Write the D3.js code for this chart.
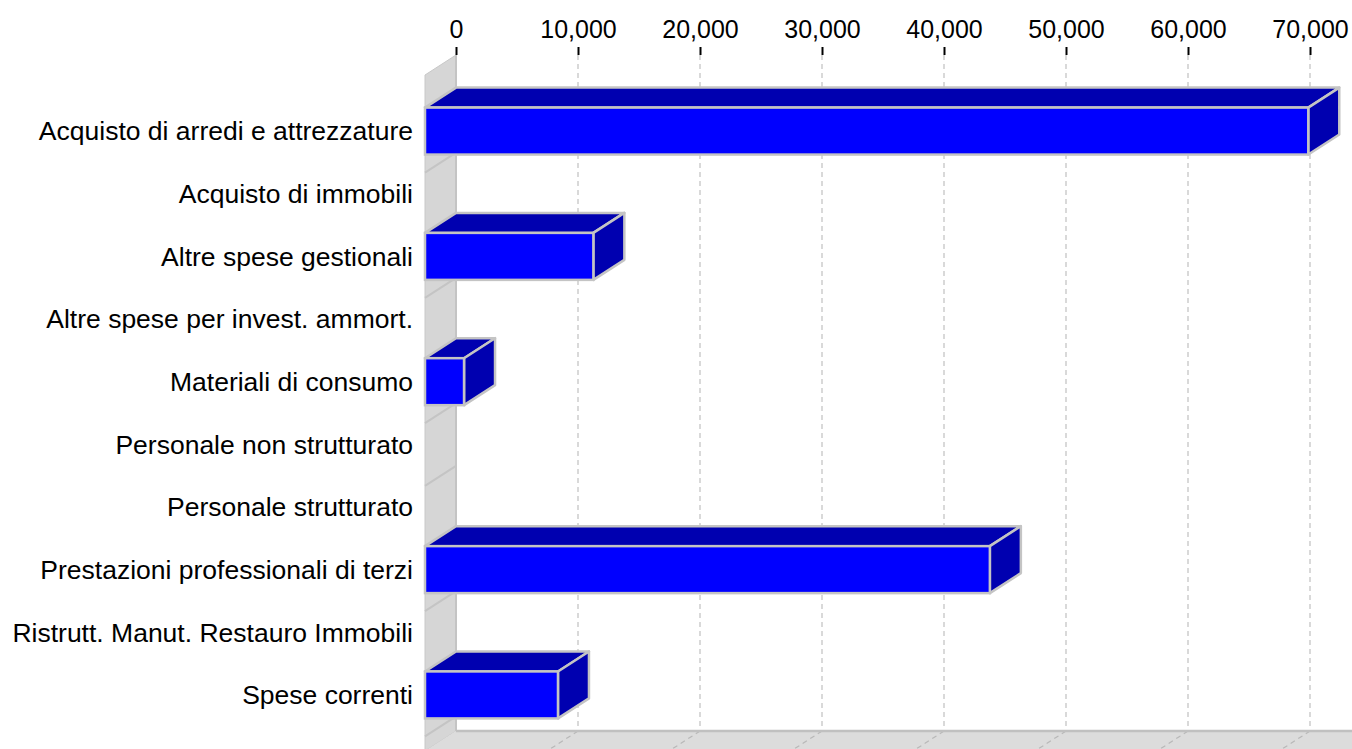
<!DOCTYPE html>
<html>
<head>
<meta charset="utf-8">
<script src="https://cdn.jsdelivr.net/npm/d3@7"></script>
<style>
  body { margin: 0; background: #fff; }
  text { font-family: "Liberation Sans", Arial, sans-serif; fill: #000; }
</style>
</head>
<body>
<div id="chart"></div>
<script>
var categories = ["Acquisto di arredi e attrezzature", "Acquisto di immobili", "Altre spese gestionali",
  "Altre spese per invest. ammort.", "Materiali di consumo", "Personale non strutturato",
  "Personale strutturato", "Prestazioni professionali di terzi", "Ristrutt. Manut. Restauro Immobili",
  "Spese correnti"];
var values = [72400, 0, 13800, 0, 3200, 0, 0, 46300, 0, 10900];
var tickValues = [0, 10000, 20000, 30000, 40000, 50000, 60000, 70000];

var w = 1352, h = 749;
var dx = 31, dy = 20;          // depth offset of the 3d look
var plotLeft = 425, plotTop = 75, plotBottom = 751;

var svg = d3.select("#chart").append("svg")
  .attr("width", w).attr("height", h);

// x scale on the back plane, front = back - dx
var x = d3.scaleLinear().domain([0, 70000]).range([plotLeft + dx, 1310]);
var y = d3.scaleBand().domain(categories).range([plotTop, plotBottom])
  .paddingInner(0.25).paddingOuter(0.52);

var backTop = plotTop - dy, backBottom = plotBottom - dy;

// left wall
svg.append("polygon")
  .attr("points", [[plotLeft, plotTop], [plotLeft + dx, backTop], [plotLeft + dx, backBottom], [plotLeft, plotBottom]].join(" "))
  .attr("fill", "#d6d6d6").attr("stroke", "#c8c8c8").attr("stroke-width", 1);

// floor
svg.append("polygon")
  .attr("points", [[plotLeft + dx, backBottom], [w + 40, backBottom], [w + 40, plotBottom], [plotLeft, plotBottom]].join(" "))
  .attr("fill", "#dcdcdc");

// wall lines between rows
svg.selectAll(".wall-line")
  .data(categories)
  .enter()
  .append("line")
  .attr("class", "wall-line")
  .attr("x1", plotLeft).attr("x2", plotLeft + dx)
  .attr("y1", function(d){ return y(d) + y.bandwidth() / 2 + 41.5; })
  .attr("y2", function(d){ return y(d) + y.bandwidth() / 2 + 41.5 - dy; })
  .attr("stroke", "#c4c4c4").attr("stroke-width", 2);

// grid lines on back plane and floor
svg.selectAll(".grid")
  .data(tickValues.slice(1))
  .enter()
  .append("line")
  .attr("class", "grid")
  .attr("x1", function(d){ return x(d); }).attr("x2", function(d){ return x(d); })
  .attr("y1", backTop).attr("y2", backBottom)
  .attr("stroke", "#c0c0c0").attr("stroke-width", 1.2)
  .attr("stroke-dasharray", "5,4");

svg.selectAll(".floor-grid")
  .data(tickValues.slice(1))
  .enter()
  .append("line")
  .attr("class", "floor-grid")
  .attr("x1", function(d){ return x(d); }).attr("x2", function(d){ return x(d) - dx; })
  .attr("y1", backBottom).attr("y2", plotBottom)
  .attr("stroke", "#b8b8b8").attr("stroke-width", 1.2)
  .attr("stroke-dasharray", "5,4");

// back edges of wall and floor
svg.append("line")
  .attr("x1", plotLeft + dx).attr("x2", plotLeft + dx)
  .attr("y1", backTop).attr("y2", backBottom)
  .attr("stroke", "#c4c4c4").attr("stroke-width", 2);
svg.append("line")
  .attr("x1", plotLeft + dx).attr("x2", w)
  .attr("y1", backBottom).attr("y2", backBottom)
  .attr("stroke", "#c0c0c0").attr("stroke-width", 2.5);

// top axis
var axis = d3.axisTop(x).tickValues(tickValues).tickSize(8).tickPadding(9)
  .tickFormat(d3.format(","));
var ax = svg.append("g")
  .attr("transform", "translate(0," + backTop + ")")
  .call(axis);
ax.select(".domain").remove();
ax.selectAll(".tick line").attr("stroke", "#000").attr("stroke-width", 2);
ax.selectAll(".tick text").attr("font-size", "25px")
  .attr("font-family", "Liberation Sans, Arial, sans-serif");

// bars
var bars = svg.selectAll(".bar")
  .data(values.map(function(v, i){ return {cat: categories[i], v: v}; }).filter(function(d){ return d.v > 0; }))
  .enter()
  .append("g")
  .attr("class", "bar");

function pts(a){ return a.map(function(p){ return p.join(","); }).join(" "); }

bars.append("polygon")
  .attr("points", function(d){
    var y0 = y(d.cat), xf = x(d.v) - dx;
    return pts([[plotLeft, y0], [plotLeft + dx, y0 - dy], [xf + dx, y0 - dy], [xf, y0]]);
  })
  .attr("fill", "#0000b0").attr("stroke", "#c4c4c4").attr("stroke-width", 2.5)
  .attr("stroke-linejoin", "round");

bars.append("polygon")
  .attr("points", function(d){
    var y0 = y(d.cat), y1 = y0 + y.bandwidth(), xf = x(d.v) - dx;
    return pts([[xf, y0], [xf + dx, y0 - dy], [xf + dx, y1 - dy], [xf, y1]]);
  })
  .attr("fill", "#0000b0").attr("stroke", "#c4c4c4").attr("stroke-width", 2.5)
  .attr("stroke-linejoin", "round");

bars.append("rect")
  .attr("x", plotLeft)
  .attr("y", function(d){ return y(d.cat); })
  .attr("width", function(d){ return x(d.v) - dx - plotLeft; })
  .attr("height", y.bandwidth())
  .attr("fill", "#0000ff").attr("stroke", "#c4c4c4").attr("stroke-width", 2.5);

// category labels
svg.selectAll(".cat-label")
  .data(categories)
  .enter()
  .append("text")
  .attr("class", "cat-label")
  .attr("x", 413)
  .attr("y", function(d){ return y(d) + y.bandwidth() / 2; })
  .attr("dy", "0.35em")
  .attr("text-anchor", "end")
  .attr("font-size", "26.5px")
  .text(function(d){ return d; });
</script>
</body>
</html>
